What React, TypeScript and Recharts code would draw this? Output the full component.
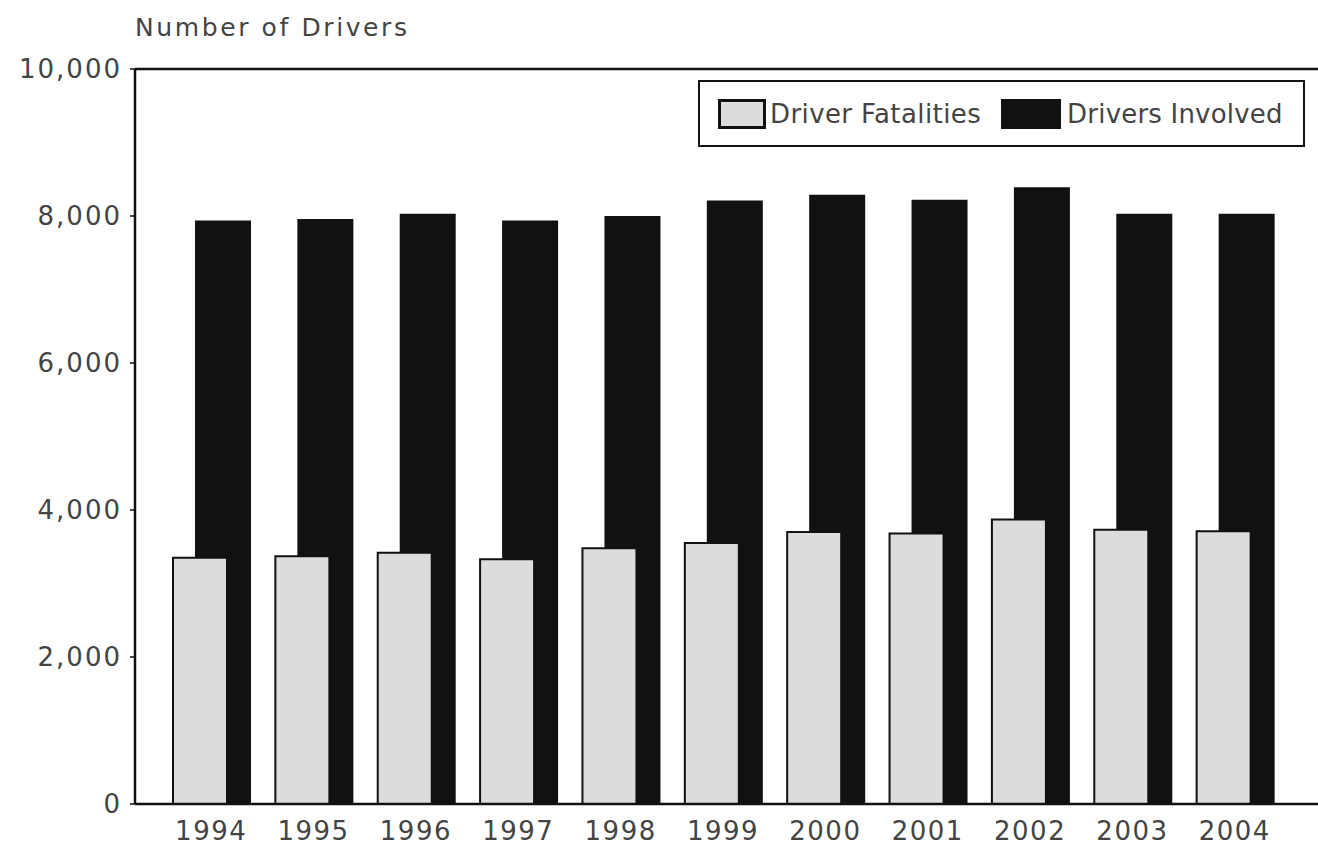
import {
  BarChart,
  Bar,
  XAxis,
  YAxis,
  Legend,
  ReferenceLine,
} from "recharts";

const years = ["1994", "1995", "1996", "1997", "1998", "1999", "2000", "2001", "2002", "2003", "2004"];
const driverFatalities = [3350, 3370, 3420, 3330, 3480, 3550, 3700, 3680, 3870, 3730, 3710];
const driversInvolved = [7940, 7960, 8030, 7940, 8000, 8210, 8290, 8220, 8390, 8030, 8030];
const yTicks = [0, 2000, 4000, 6000, 8000, 10000];

const FONT = "'DejaVu Sans', 'Liberation Sans', sans-serif";
const TEXT = "#444444";
const INK = "#111111";
const GRAY = "#dcdcdc";

const data = years.map((year, i) => ({
  year,
  fatalities: driverFatalities[i],
  involved: driversInvolved[i],
}));

function LegendBox() {
  return (
    <div
      style={{
        boxSizing: "border-box",
        width: 607,
        height: 67,
        border: `2px solid ${INK}`,
        display: "flex",
        alignItems: "center",
        paddingLeft: 18,
        fontFamily: FONT,
        fontSize: 26,
        color: TEXT,
        background: "#fff",
      }}
    >
      <span
        style={{
          display: "inline-block",
          boxSizing: "border-box",
          width: 48,
          height: 30,
          background: GRAY,
          border: `3px solid ${INK}`,
          marginRight: 4,
        }}
      />
      <span style={{ letterSpacing: 0.4 }}>Driver Fatalities</span>
      <span
        style={{
          display: "inline-block",
          width: 60,
          height: 30,
          background: INK,
          marginLeft: 20,
          marginRight: 6,
        }}
      />
      <span style={{ letterSpacing: 0.2 }}>Drivers Involved</span>
    </div>
  );
}

export default function App() {
  return (
    <div
      style={{
        position: "absolute",
        left: 0,
        top: 0,
        width: 1318,
        height: 850,
        background: "#fff",
        fontFamily: FONT,
      }}
    >
      <div
        style={{
          position: "absolute",
          left: 135,
          top: 13,
          fontSize: 25,
          letterSpacing: 2.6,
          color: TEXT,
        }}
      >
        Number of Drivers
      </div>
      <BarChart
        width={1318}
        height={850}
        data={data}
        margin={{ top: 69, right: 0, bottom: 0, left: 0 }}
        barGap={-78}
      >
        <XAxis
          dataKey="year"
          height={46}
          padding={{ left: 25, right: 32 }}
          axisLine={{ stroke: INK, strokeWidth: 2.5 }}
          tickLine={false}
          tickMargin={12}
          tick={{ fill: TEXT, fontSize: 26, fontFamily: FONT, letterSpacing: 1.5 }}
          interval={0}
        />
        <YAxis
          width={135}
          domain={[0, 10000]}
          ticks={yTicks}
          tickFormatter={(v: number) => v.toLocaleString("en-US")}
          axisLine={{ stroke: INK, strokeWidth: 2.5 }}
          tickLine={{ stroke: INK, strokeWidth: 1.5 }}
          tickSize={5}
          tickMargin={8}
          tick={{ fill: TEXT, fontSize: 26, fontFamily: FONT, letterSpacing: 2 }}
        />
        <ReferenceLine y={10000} stroke={INK} strokeWidth={2.5} />
        <Legend
          layout="horizontal"
          verticalAlign="middle"
          align="center"
          wrapperStyle={{ left: 698, top: 80, width: 607, height: 67 }}
          content={() => <LegendBox />}
        />
        <Bar
          dataKey="involved"
          name="Drivers Involved"
          fill={INK}
          barSize={56}
          isAnimationActive={false}
        />
        <Bar
          dataKey="fatalities"
          name="Driver Fatalities"
          fill={GRAY}
          stroke={INK}
          strokeWidth={2}
          barSize={54}
          isAnimationActive={false}
        />
      </BarChart>
    </div>
  );
}
